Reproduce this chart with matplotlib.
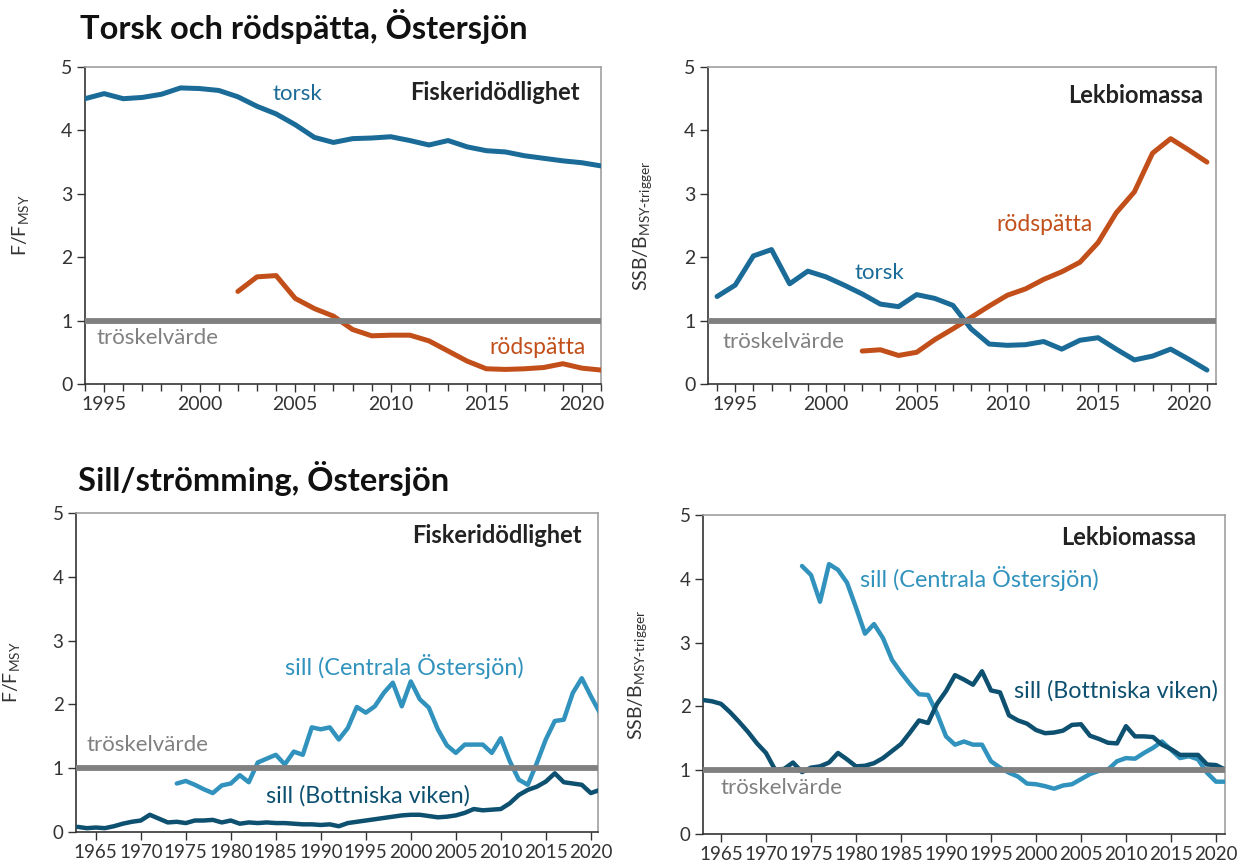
import numpy as np
import matplotlib
matplotlib.use("Agg")
import matplotlib.pyplot as plt
from matplotlib.ticker import MultipleLocator

plt.rcParams['font.family'] = ['Lato', 'DejaVu Sans']
plt.rcParams['mathtext.default'] = 'regular'

BLUE = "#1a6b97"
ORANGE = "#c24f1a"
LIGHT_BLUE = "#3193bd"
DARK_BLUE = "#0d5070"
GREY = "#808080"
TEXT = "#333333"

# torsk / rödspätta
TORSK_YEARS = list(range(1994, 2022))
TORSK_F = [4.50, 4.58, 4.50, 4.52, 4.57, 4.67, 4.66, 4.63, 4.53, 4.38, 4.26, 4.09, 3.89, 3.81,
           3.87, 3.88, 3.90, 3.84, 3.77, 3.84, 3.74, 3.68, 3.66, 3.60, 3.56, 3.52, 3.49, 3.44]
TORSK_SSB = [1.38, 1.56, 2.02, 2.12, 1.58, 1.78, 1.69, 1.56, 1.42, 1.26, 1.22, 1.41, 1.35, 1.24,
             0.87, 0.63, 0.61, 0.62, 0.67, 0.55, 0.69, 0.73, 0.55, 0.38, 0.44, 0.55, 0.39, 0.22]

ROD_YEARS = list(range(2002, 2022))
ROD_F = [1.46, 1.69, 1.71, 1.35, 1.19, 1.07, 0.86, 0.76, 0.77, 0.77, 0.68, 0.52, 0.36, 0.24,
         0.23, 0.24, 0.26, 0.32, 0.25, 0.22]
ROD_SSB = [0.52, 0.54, 0.45, 0.50, 0.70, 0.87, 1.05, 1.23, 1.40, 1.50, 1.65, 1.77, 1.92, 2.23,
           2.70, 3.03, 3.64, 3.87, 3.69, 3.50]

# sill / strömming
CENT_YEARS = list(range(1974, 2022))
CENT_F = [0.76, 0.80, 0.74, 0.67, 0.61, 0.73, 0.76, 0.89, 0.78, 1.09, 1.15, 1.21, 1.06, 1.26,
          1.21, 1.64, 1.61, 1.64, 1.45, 1.63, 1.96, 1.87, 1.97, 2.18, 2.34, 1.97, 2.36, 2.08,
          1.95, 1.61, 1.36, 1.24, 1.37, 1.37, 1.37, 1.24, 1.47, 1.11, 0.82, 0.74, 1.08, 1.45,
          1.74, 1.76, 2.18, 2.41, 2.13, 1.87]
CENT_SSB = [4.20, 4.06, 3.64, 4.23, 4.14, 3.94, 3.55, 3.14, 3.29, 3.07, 2.73, 2.53, 2.35, 2.19,
            2.18, 1.89, 1.53, 1.40, 1.45, 1.40, 1.40, 1.14, 1.04, 0.96, 0.90, 0.79, 0.78, 0.75,
            0.71, 0.76, 0.78, 0.86, 0.94, 0.99, 1.01, 1.14, 1.19, 1.18, 1.27, 1.35, 1.45, 1.32,
            1.19, 1.22, 1.17, 0.96, 0.82, 0.82]

BOT_YEARS = list(range(1963, 2022))
BOT_F = [0.08, 0.06, 0.07, 0.06, 0.09, 0.13, 0.16, 0.18, 0.27, 0.21,   # 1963-1972
         0.15, 0.16, 0.14, 0.18, 0.18, 0.19, 0.15, 0.18, 0.13, 0.15,   # 1973-1982
         0.14, 0.15, 0.14, 0.14, 0.13, 0.12, 0.12, 0.11, 0.12, 0.09,   # 1983-1992
         0.14, 0.16, 0.18, 0.20, 0.22, 0.24, 0.26, 0.27, 0.27, 0.25,   # 1993-2002
         0.23, 0.24, 0.26, 0.30, 0.36, 0.34, 0.35, 0.36, 0.45, 0.58,   # 2003-2012
         0.66, 0.71, 0.79, 0.92, 0.78, 0.76, 0.74, 0.61, 0.66]         # 2013-2021
BOT_SSB = [2.10, 2.08, 2.04, 1.91, 1.76, 1.60, 1.42, 1.27, 1.01, 1.02,
           1.12, 0.97, 1.04, 1.06, 1.12, 1.27, 1.17, 1.06, 1.07, 1.11,
           1.19, 1.30, 1.41, 1.59, 1.78, 1.74, 2.04, 2.24, 2.49, 2.42,
           2.34, 2.55, 2.25, 2.22, 1.86, 1.78, 1.73, 1.63, 1.58, 1.59,
           1.62, 1.71, 1.72, 1.54, 1.49, 1.43, 1.42, 1.69, 1.53, 1.53,
           1.52, 1.40, 1.33, 1.24, 1.24, 1.24, 1.09, 1.08, 1.01]

F_LABEL = r'F/F$_{MSY}$'
SSB_LABEL = r'SSB/B$_{MSY\text{-}trigger}$'


def style_axes(ax, xlim, minor, labelsize=14):
    ax.set_xlim(*xlim)
    ax.set_ylim(0, 5)
    ax.yaxis.set_major_locator(MultipleLocator(1))
    ax.xaxis.set_major_locator(MultipleLocator(5))
    if minor:
        ax.xaxis.set_minor_locator(MultipleLocator(1))
        ax.tick_params(axis='x', which='minor', length=5, width=1, color=TEXT)
    ax.tick_params(axis='both', which='major', length=6, width=1, color=TEXT,
                   labelsize=labelsize, labelcolor=TEXT, pad=3)
    for s in ['left', 'bottom']:
        ax.spines[s].set_color(TEXT)
        ax.spines[s].set_linewidth(1.2)
    for s in ['top', 'right']:
        ax.spines[s].set_color("#a0a0a0")
        ax.spines[s].set_linewidth(1.2)
    ax.axhline(1, color=GREY, lw=4.2, zorder=4)


def line(ax, x, y, color, lw=3.6):
    ax.plot(x, y, color=color, lw=lw, solid_capstyle='round', solid_joinstyle='round', zorder=3)


def box_title(ax, x, y, text):
    ax.text(x, y, text, transform=ax.transAxes, ha='right', va='center',
            fontsize=17, fontweight='bold', color="#222222")


fig = plt.figure(figsize=(12.44, 8.66), dpi=100)
W, H = 1244, 866


def add_axes(left, right, top, bottom):
    return fig.add_axes([left / W, 1 - bottom / H, (right - left) / W, (bottom - top) / H])


ax1 = add_axes(85, 601, 67, 384)
ax2 = add_axes(708, 1216, 67, 384)
ax3 = add_axes(76, 598, 513, 832)
ax4 = add_axes(703, 1225, 515, 834)

# top left
style_axes(ax1, (1994, 2021), True)
line(ax1, TORSK_YEARS, TORSK_F, BLUE)
line(ax1, ROD_YEARS, ROD_F, ORANGE)
ax1.set_ylabel(F_LABEL, fontsize=14, color=TEXT, labelpad=22)
ax1.text(2003.8, 4.57, "torsk", color=BLUE, fontsize=16, va='center')
ax1.text(2020.2, 0.57, "rödspätta", color=ORANGE, fontsize=16.5, va='center', ha='right')
ax1.text(1994.6, 0.73, "tröskelvärde", color=GREY, fontsize=16, va='center')
box_title(ax1, 0.959, 0.92, "Fiskeridödlighet")

# top right
style_axes(ax2, (1993.5, 2021.5), True)
line(ax2, TORSK_YEARS, TORSK_SSB, BLUE)
line(ax2, ROD_YEARS, ROD_SSB, ORANGE)
ax2.set_ylabel(SSB_LABEL, fontsize=14, color=TEXT, labelpad=22)
ax2.text(2001.6, 1.75, "torsk", color=BLUE, fontsize=16, va='center')
ax2.text(2009.4, 2.51, "rödspätta", color=ORANGE, fontsize=16.5, va='center')
ax2.text(1994.3, 0.66, "tröskelvärde", color=GREY, fontsize=16, va='center')
box_title(ax2, 0.974, 0.91, "Lekbiomassa")

# bottom left
style_axes(ax3, (1962.8, 2020.8), False, 13.5)
line(ax3, CENT_YEARS, CENT_F, LIGHT_BLUE, 3.2)
line(ax3, BOT_YEARS, BOT_F, DARK_BLUE, 3.2)
ax3.set_ylabel(F_LABEL, fontsize=14, color=TEXT, labelpad=22)
ax3.text(1986.0, 2.6, "sill (Centrala Östersjön)", color=LIGHT_BLUE, fontsize=16.8, va='center')
ax3.text(1983.9, 0.56, "sill (Bottniska viken)", color=DARK_BLUE, fontsize=16.8, va='center')
ax3.text(1964.0, 1.36, "tröskelvärde", color=GREY, fontsize=16, va='center')
box_title(ax3, 0.969, 0.93, "Fiskeridödlighet")

# bottom right
style_axes(ax4, (1963, 2021), False, 13.5)
line(ax4, CENT_YEARS, CENT_SSB, LIGHT_BLUE, 3.2)
line(ax4, BOT_YEARS, BOT_SSB, DARK_BLUE, 3.2)
ax4.set_ylabel(SSB_LABEL, fontsize=14, color=TEXT, labelpad=22)
ax4.text(1980.4, 4.01, "sill (Centrala Östersjön)", color=LIGHT_BLUE, fontsize=16.8, va='center')
ax4.text(1997.6, 2.24, "sill (Bottniska viken)", color=DARK_BLUE, fontsize=16.8, va='center')
ax4.text(1964.9, 0.72, "tröskelvärde", color=GREY, fontsize=16, va='center')
box_title(ax4, 0.944, 0.93, "Lekbiomassa")

fig.text(80 / W, 1 - 27 / H, "Torsk och rödspätta, Östersjön", fontsize=23.5, fontweight='bold',
         va='center', color="#111111")
fig.text(78 / W, 1 - 478 / H, "Sill/strömming, Östersjön", fontsize=23.5, fontweight='bold',
         va='center', color="#111111")

fig.savefig("out.png", dpi=100, facecolor='white')
